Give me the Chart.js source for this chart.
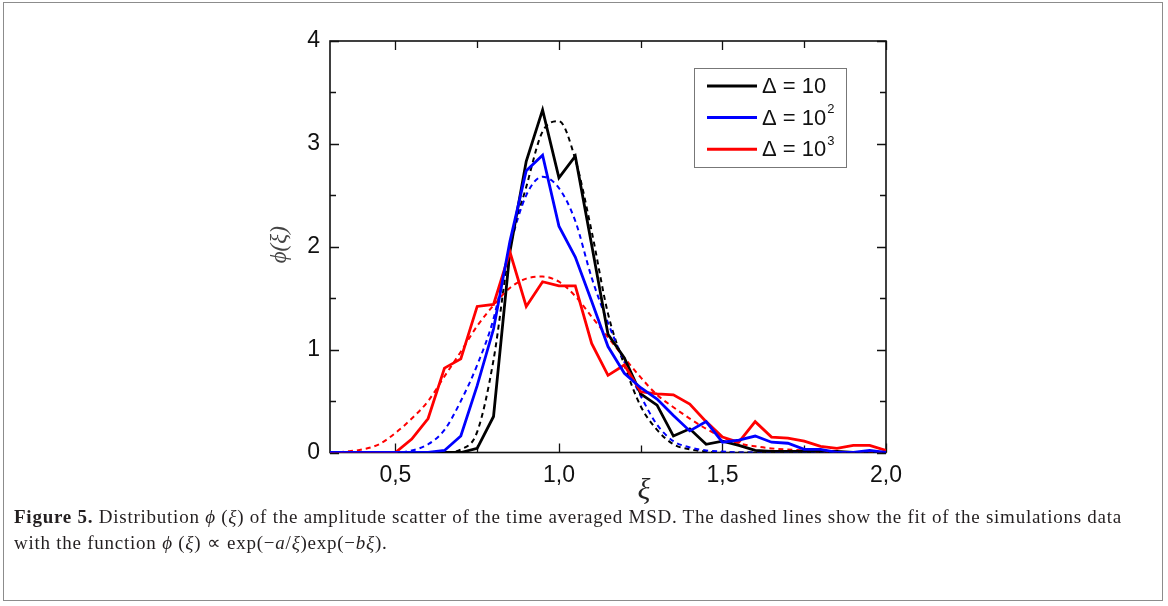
<!DOCTYPE html>
<html>
<head>
<meta charset="utf-8">
<script src="https://cdn.jsdelivr.net/npm/chart.js@4.4.0/dist/chart.umd.min.js"></script>
<style>
html, body { margin: 0; padding: 0; background: #fff; }
#wrap { position: relative; width: 1168px; height: 606px; overflow: hidden; }
#frame { position: absolute; left: 3px; top: 2px; width: 1160px; height: 599px; border: 1px solid #8c8c8c; box-sizing: border-box; }
#chart { position: absolute; left: 0; top: 0; }
#caption { position: absolute; left: 14px; top: 504px; font-family: "Liberation Serif", serif; font-size: 19px; line-height: 26px; color: #231f20; white-space: nowrap; }
#caption i { font-style: italic; }
</style>
</head>
<body>
<div id="wrap">
  <div id="frame"></div>
  <canvas id="chart" width="1168" height="606"></canvas>
  <div id="caption">
    <span id="line1"><b>Figure 5.</b> Distribution <i>ϕ</i> (<i>ξ</i>) of the amplitude scatter of the time averaged MSD. The dashed lines show the fit of the simulations data</span><br>
    <span id="line2">with the function <i>ϕ</i> (<i>ξ</i>) ∝ exp(−<i>a</i>/<i>ξ</i>)exp(−<i>bξ</i>).</span>
  </div>
</div>
<script>
// valores de xi (paso 0,05)
const xi = [0.30, 0.35, 0.40, 0.45, 0.50, 0.55, 0.60, 0.65, 0.70, 0.75,
            0.80, 0.85, 0.90, 0.95, 1.00, 1.05, 1.10, 1.15, 1.20, 1.25,
            1.30, 1.35, 1.40, 1.45, 1.50, 1.55, 1.60, 1.65, 1.70, 1.75,
            1.80, 1.85, 1.90, 1.95, 2.00];

// datos de simulacion
const phiD10 = [0, 0, 0, 0, 0, 0, 0, 0, 0.0, 0.04,
                0.35, 1.95, 2.83, 3.33, 2.67, 2.88, 2.02, 1.15, 0.92, 0.57,
                0.46, 0.16, 0.23, 0.08, 0.11, 0.07, 0.02, 0.01, 0.01, 0.01,
                0.01, 0.01, 0.0, 0.0, 0.0];
const phiD100 = [0, 0, 0, 0, 0, 0, 0, 0.02, 0.16, 0.65,
                 1.2, 2.05, 2.74, 2.89, 2.2, 1.9, 1.47, 1.03, 0.77, 0.63,
                 0.52, 0.36, 0.21, 0.3, 0.1, 0.12, 0.16, 0.1, 0.09, 0.03,
                 0.03, 0.0, 0.0, 0.02, 0.0];
const phiD1000 = [0, 0, 0, 0, 0, 0.13, 0.33, 0.82, 0.91, 1.42,
                  1.44, 1.95, 1.42, 1.66, 1.62, 1.62, 1.06, 0.75, 0.85, 0.59,
                  0.57, 0.56, 0.47, 0.3, 0.15, 0.1, 0.3, 0.15, 0.14, 0.11,
                  0.06, 0.04, 0.07, 0.07, 0.02];

// curvas de ajuste (lineas discontinuas)
const fitD10 = [0, 0, 0, 0, 0, 0, 0, 0, 0.03, 0.2,
                0.9, 2.0, 2.58, 3.12, 3.22, 2.85, 2.15, 1.35, 0.85, 0.45,
                0.22, 0.08, 0.03, 0.01, 0, 0, 0, 0, 0, 0,
                0, 0, 0, 0, 0];
const fitD100 = [0, 0, 0, 0, 0, 0.02, 0.08, 0.22, 0.5, 0.85,
                 1.3, 2.0, 2.5, 2.68, 2.57, 2.25, 1.7, 1.26, 0.88, 0.55,
                 0.27, 0.11, 0.05, 0.02, 0.01, 0, 0, 0, 0, 0,
                 0, 0, 0, 0, 0];
const fitD1000 = [0.0, 0.01, 0.03, 0.08, 0.19, 0.33, 0.5, 0.74, 0.98, 1.23,
                  1.43, 1.6, 1.69, 1.71, 1.66, 1.52, 1.32, 1.12, 0.92, 0.73,
                  0.56, 0.44, 0.33, 0.23, 0.15, 0.09, 0.06, 0.04, 0.03, 0.02,
                  0.01, 0.01, 0, 0, 0];

// ejes
const xTicks = [0.5, 1.0, 1.5, 2.0];
const xTicksMinor = [0.75, 1.25, 1.75];
const yTicks = [0, 1, 2, 3, 4];
const yTicksMinor = [0.5, 1.5, 2.5, 3.5];

// leyenda
const legendText = ['Δ = 10', 'Δ = 10', 'Δ = 10'];
const legendSup = ['', '2', '3'];
const legendColors = ['#000000', '#0000ff', '#ff0000'];

const puntos = arr => xi.map((x, i) => ({ x: x, y: arr[i] }));

function serie(arr, color, dashed) {
    return {
        data: puntos(arr),
        borderColor: color,
        borderWidth: dashed ? 2 : 2.8,
        borderDash: dashed ? [5, 4] : [],
        pointRadius: 0,
        fill: false,
        tension: 0,
        cubicInterpolationMode: dashed ? 'monotone' : 'default'
    };
}

const tickFont = { family: '"Liberation Sans", Arial, sans-serif', size: 23 };

// marco, marcas hacia dentro, titulos y leyenda
const marcoPlugin = {
    id: 'marco',
    beforeDatasetsDraw(chart) {
        const { ctx, chartArea: a, scales: { x, y } } = chart;
        ctx.save();
        ctx.strokeStyle = '#111';
        ctx.lineWidth = 1.6;
        ctx.strokeRect(a.left, a.top, a.right - a.left, a.bottom - a.top);
        ctx.lineWidth = 1.3;
        ctx.beginPath();
        xTicks.concat(xTicksMinor).forEach(v => {
            const px = Math.round(x.getPixelForValue(v)) + 0.5;
            const len = xTicks.includes(v) ? 9 : 7;
            ctx.moveTo(px, a.bottom); ctx.lineTo(px, a.bottom - len);
            ctx.moveTo(px, a.top); ctx.lineTo(px, a.top + len);
        });
        yTicks.concat(yTicksMinor).forEach(v => {
            const py = Math.round(y.getPixelForValue(v)) + 0.5;
            const len = yTicks.includes(v) ? 9 : 6;
            ctx.moveTo(a.left, py); ctx.lineTo(a.left + len, py);
            ctx.moveTo(a.right, py); ctx.lineTo(a.right - len, py);
        });
        ctx.stroke();
        ctx.restore();
    },
    afterDraw(chart) {
        const { ctx, chartArea: a, scales: { x, y } } = chart;
        ctx.save();
        // titulo eje x
        ctx.fillStyle = '#222';
        ctx.font = 'italic 30px "Liberation Serif", serif';
        ctx.textAlign = 'center';
        ctx.textBaseline = 'middle';
        ctx.fillText('ξ', x.getPixelForValue(1.26), 491);
        // titulo eje y
        ctx.save();
        ctx.translate(280, (a.top + a.bottom) / 2 - 2);
        ctx.rotate(-Math.PI / 2);
        ctx.font = 'italic 23px "Liberation Serif", serif';
        ctx.fillStyle = '#444';
        ctx.fillText('ϕ(ξ)', 0, 0);
        ctx.restore();
        // leyenda
        const bx = 694, by = 68, bw = 152, bh = 99;
        ctx.fillStyle = '#fff';
        ctx.fillRect(bx, by, bw, bh);
        ctx.strokeStyle = '#777';
        ctx.lineWidth = 1;
        ctx.strokeRect(bx + 0.5, by + 0.5, bw, bh);
        legendText.forEach((t, i) => {
            const ly = by + 18 + i * 31.6;
            ctx.strokeStyle = legendColors[i];
            ctx.lineWidth = 3;
            ctx.beginPath();
            ctx.moveTo(707, ly); ctx.lineTo(757, ly);
            ctx.stroke();
            ctx.fillStyle = '#111';
            ctx.textAlign = 'left';
            ctx.textBaseline = 'middle';
            ctx.font = '22px "Liberation Sans", Arial, sans-serif';
            ctx.fillText(t, 762, ly + 1);
            if (legendSup[i]) {
                const w = ctx.measureText(t).width;
                ctx.font = '13px "Liberation Sans", Arial, sans-serif';
                ctx.fillText(legendSup[i], 762 + w + 1, ly - 8);
            }
        });
        ctx.restore();
    }
};

const grafico = new Chart(document.getElementById('chart'), {
    type: 'line',
    data: {
        datasets: [
            serie(phiD100, '#0000ff', false),
            serie(phiD1000, '#ff0000', false),
            serie(phiD10, '#000000', false),
            serie(fitD1000, '#ff0000', true),
            serie(fitD100, '#0000ff', true),
            serie(fitD10, '#000000', true)
        ]
    },
    options: {
        responsive: false,
        animation: false,
        layout: { padding: { left: 230, top: 41, right: 282, bottom: 93.5 } },
        plugins: { legend: { display: false }, tooltip: { enabled: false } },
        scales: {
            x: {
                type: 'linear',
                min: 0.3,
                max: 2.0,
                afterBuildTicks: s => { s.ticks = xTicks.map(v => ({ value: v })); },
                afterFit: s => { s.height = 60; },
                grid: { display: false, drawTicks: false },
                border: { display: false },
                ticks: {
                    font: tickFont,
                    color: '#111',
                    padding: 9,
                    maxRotation: 0,
                    autoSkip: false,
                    callback: v => v.toFixed(1).replace('.', ',')
                }
            },
            y: {
                min: 0,
                max: 4,
                afterBuildTicks: s => { s.ticks = yTicks.map(v => ({ value: v })); },
                afterFit: s => { s.width = 100; },
                grid: { display: false, drawTicks: false },
                border: { display: false },
                ticks: {
                    font: tickFont,
                    color: '#111',
                    padding: 10,
                    autoSkip: false,
                    callback: v => String(v)
                }
            }
        }
    },
    plugins: [marcoPlugin]
});

// ajustar ancho de la primera linea del pie de figura
const l1 = document.getElementById('line1');
const objetivo = 1108;
const n = l1.textContent.length;
const w1 = l1.getBoundingClientRect().width;
const esp = ((objetivo - w1) / n) + 'px';
l1.style.letterSpacing = esp;
document.getElementById('line2').style.letterSpacing = esp;
</script>
</body>
</html>
